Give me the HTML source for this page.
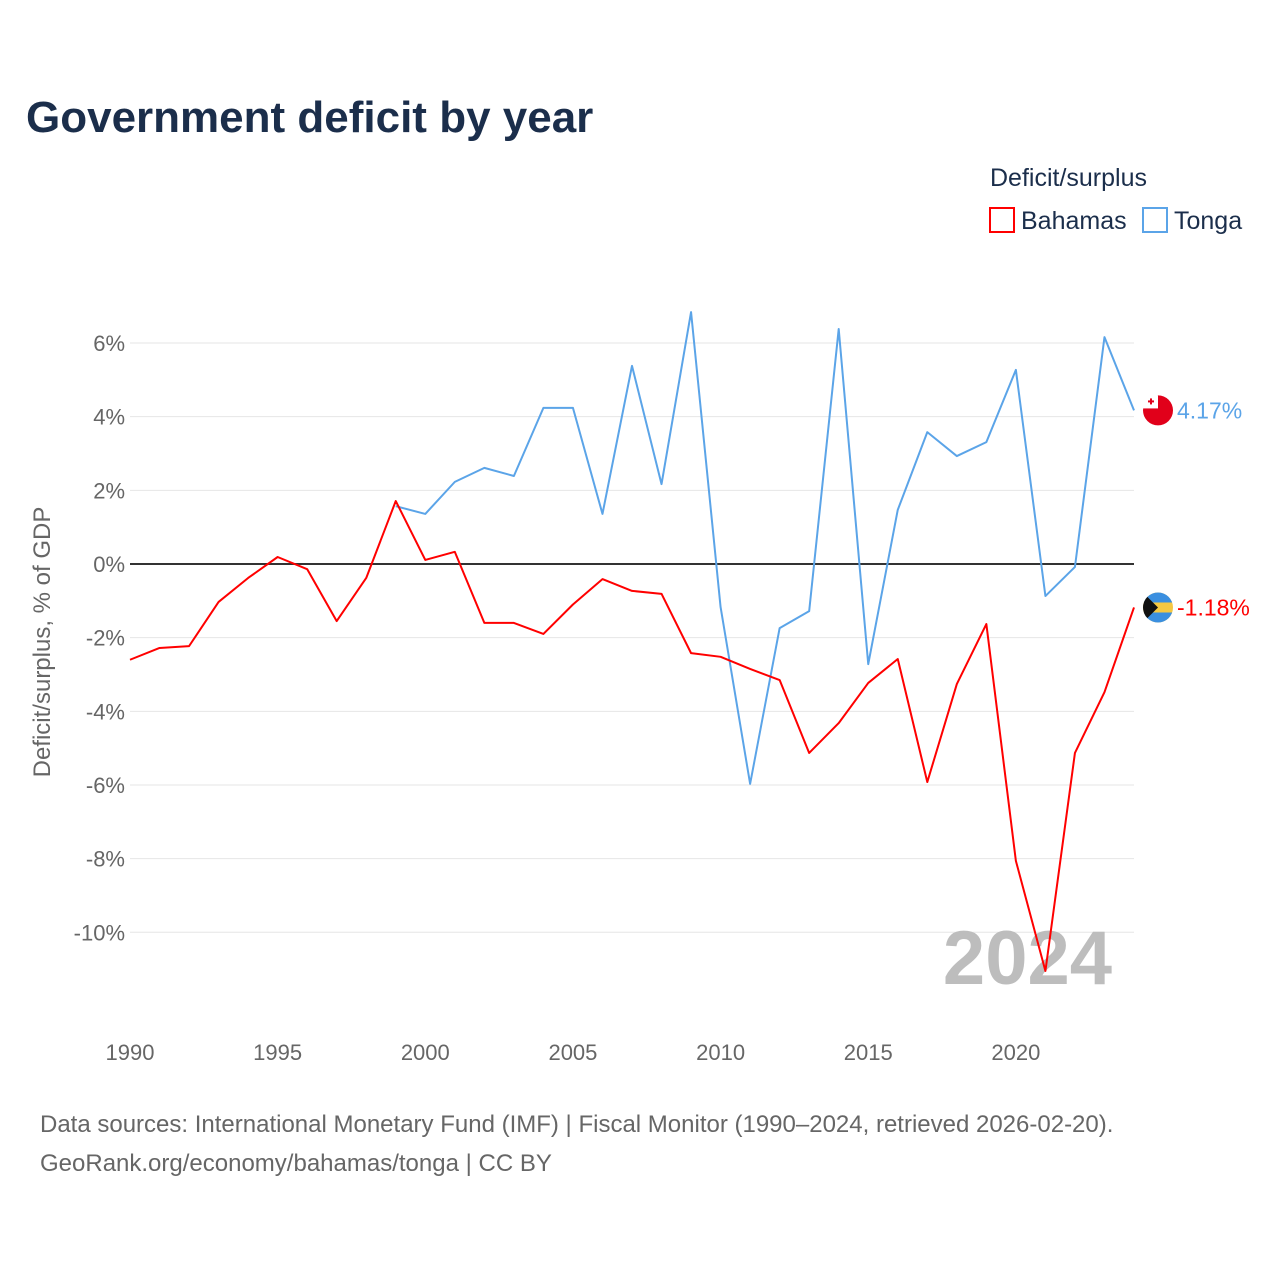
<!DOCTYPE html>
<html><head><meta charset="utf-8">
<style>
body{margin:0;background:#fff;font-family:"Liberation Sans",sans-serif;}
#wrap{position:relative;width:1280px;height:1280px;overflow:hidden;}
</style></head>
<body>
<div id="wrap">
<svg id="chart" width="1280" height="1280" font-family="Liberation Sans, sans-serif">
  <defs><clipPath id="bclip"><circle id="bclipc" cx="0" cy="0" r="15"/></clipPath></defs>
  <text x="26" y="132" font-size="44" font-weight="bold" fill="#1b2e4b">Government deficit by year</text>
  <text x="990" y="186" font-size="25" fill="#1b2e4b">Deficit/surplus</text>
  <rect x="990" y="208" width="24" height="24" fill="none" stroke="#ff0000" stroke-width="2"/>
  <text x="1021" y="229" font-size="25" fill="#1b2e4b">Bahamas</text>
  <rect x="1143" y="208" width="24" height="24" fill="none" stroke="#5ba4e8" stroke-width="2"/>
  <text x="1174" y="229" font-size="25" fill="#1b2e4b">Tonga</text>
  <g id="grid"></g>
  <g id="xticks"></g>
  <text transform="translate(50,642) rotate(-90)" text-anchor="middle" font-size="24" fill="#666">Deficit/surplus, % of GDP</text>
  <text x="1112" y="984" text-anchor="end" font-size="76" font-weight="bold" fill="#bdbdbd">2024</text>
  <g id="series"></g>
  <text x="40" y="1132" font-size="24" fill="#666">Data sources: International Monetary Fund (IMF) | Fiscal Monitor (1990–2024, retrieved 2026-02-20).</text>
  <text x="40" y="1171" font-size="24" fill="#666">GeoRank.org/economy/bahamas/tonga | CC BY</text>
</svg>
</div>
<script>
const years = [];
for (let y = 1990; y <= 2024; y++) years.push(y);
const bahamas = [-2.6,-2.28,-2.23,-1.03,-0.38,0.19,-0.14,-1.55,-0.38,1.71,0.11,0.33,-1.6,-1.6,-1.9,-1.1,-0.41,-0.73,-0.81,-2.42,-2.52,-2.85,-3.15,-5.13,-4.32,-3.23,-2.58,-5.92,-3.26,-1.63,-8.06,-11.05,-5.13,-3.48,-1.18];
const tongaYears = [];
for (let y = 1999; y <= 2024; y++) tongaYears.push(y);
const tonga = [1.57,1.36,2.23,2.61,2.39,4.24,4.24,1.36,5.38,2.17,6.84,-1.17,-5.97,-1.74,-1.28,6.38,-2.72,1.47,3.58,2.93,3.31,5.27,-0.87,-0.08,6.16,4.17];
const yTicks = [6,4,2,0,-2,-4,-6,-8,-10];
const xTicks = [1990,1995,2000,2005,2010,2015,2020];

const NS = "http://www.w3.org/2000/svg";
const xS = y => 130 + (y - 1990) * (1134 - 130) / 34;
const yS = v => 564 - v * 36.83;
function el(tag, attrs, parent){const e=document.createElementNS(NS,tag);for(const k in attrs)e.setAttribute(k,attrs[k]);parent.appendChild(e);return e;}

const grid = document.getElementById('grid');
yTicks.forEach(v=>{
  const l = el('line',{x1:130,x2:1134,y1:yS(v),y2:yS(v),stroke:v===0?'#333':'#e6e6e6','stroke-width':v===0?2:1},grid);
  
  
  const t = el('text',{x:125,y:yS(v)+8,'text-anchor':'end','font-size':22,fill:'#666'},grid);
  t.textContent = v + '%';
  
  
});
const xt = document.getElementById('xticks');
xTicks.forEach(y=>{
  const t = el('text',{x:xS(y),y:1060,'text-anchor':'middle','font-size':22,fill:'#666'},xt);
  t.textContent = y;
  
  
});

const s = document.getElementById('series');
function line(xs, vs, color, name){
  const p = el('polyline',{points:xs.map((y,i)=>xS(y)+','+yS(vs[i])).join(' '),fill:'none',stroke:color,'stroke-width':2,'stroke-linejoin':'round'},s);
  
  
}
line(tongaYears, tonga, '#5ba4e8', 'tonga-line');
line(years, bahamas, '#ff0000', 'bahamas-line');

const tv = tonga[tonga.length-1], bv = bahamas[bahamas.length-1];
const tx = xS(2024)+24, ty = yS(tv);
let c = el('circle',{cx:tx,cy:ty,r:15,fill:'#e1001a'},s);


el('rect',{x:tx-15,y:ty-15,width:15,height:13,fill:'#fff'},s);
el('rect',{x:tx-10,y:ty-10,width:6,height:2,fill:'#e1001a'},s);
el('rect',{x:tx-8,y:ty-12,width:2,height:6,fill:'#e1001a'},s);
let t1 = el('text',{x:tx+19,y:ty+8,'font-size':23,fill:'#5ba4e8'},s);
t1.textContent = tv.toFixed(2)+'%';



const bx = xS(2024)+24, by = yS(bv);
const cc = document.getElementById('bclipc');
cc.setAttribute('cx', bx); cc.setAttribute('cy', by);
const bg = el('g',{'clip-path':'url(#bclip)'},s);


el('rect',{x:bx-15,y:by-15,width:30,height:30,fill:'#f5c842'},bg);
el('path',{d:`M${bx-15},${by-15} h30 v10 h-30z M${bx-15},${by+5} h30 v10 h-30z`,fill:'#3a8fe0'},bg);
el('path',{d:`M${bx-15},${by-15} L${bx},${by} L${bx-15},${by+15}z`,fill:'#111'},bg);
let t2 = el('text',{x:bx+19,y:by+8,'font-size':23,fill:'#ff0000'},s);
t2.textContent = bv.toFixed(2)+'%';


</script>
</body></html>
